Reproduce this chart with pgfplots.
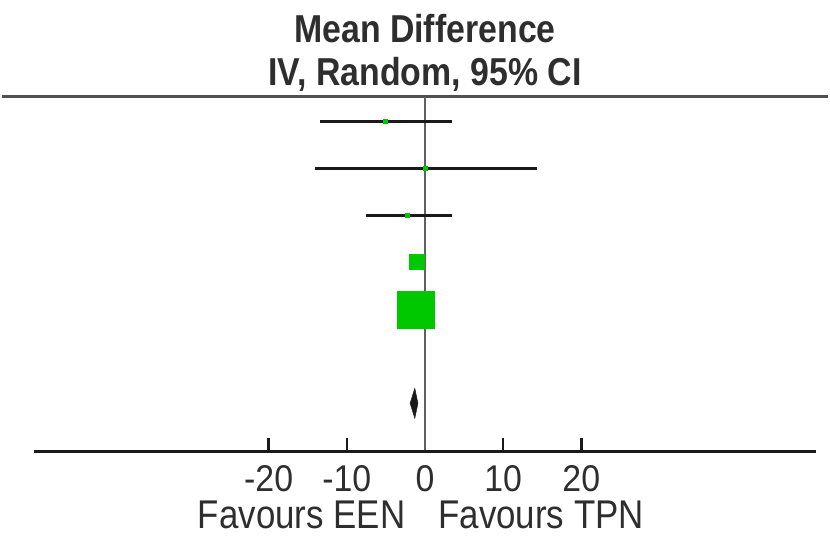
\documentclass[border=0pt]{standalone}
\usepackage{graphicx}
\usepackage{pgfplots}
\pgfplotsset{compat=1.18}
\usepackage{fontspec}
\setmainfont{Liberation Sans}
\definecolor{txt}{HTML}{2E2E2E}
\definecolor{sqg}{HTML}{00C800}
\definecolor{ln}{HTML}{1A1A1A}
\definecolor{rule}{HTML}{505050}
\definecolor{zero}{HTML}{606060}
\begin{document}
\begin{tikzpicture}
\begin{axis}[
 width=830pt, height=539pt, scale only axis,
 xmin=-54.14, xmax=51.59, ymin=0, ymax=539,
 hide axis, clip=false,
]
\draw[draw=none] (rel axis cs:0,0) rectangle (rel axis cs:1,1);
% top rule
\addplot[draw=rule, line width=3.5pt] coordinates {(-54.14,442) (51.59,442)};
% zero line
\addplot[draw=zero, line width=2.5pt] coordinates {(0,442) (0,86)};
% x axis
\addplot[draw=ln, line width=3pt] coordinates {(-50,86) (50,86)};
\addplot[draw=ln, line width=2.5pt] coordinates {(-20,86) (-20,99)};
\addplot[draw=ln, line width=2.5pt] coordinates {(-10,86) (-10,99)};
\addplot[draw=ln, line width=2.5pt] coordinates {(10,86) (10,99)};
\addplot[draw=ln, line width=2.5pt] coordinates {(20,86) (20,99)};
% confidence intervals
\addplot[draw=ln, line width=3pt] coordinates {(-13.4,417) (3.4,417)};
\addplot[draw=ln, line width=3pt] coordinates {(-14.1,370) (14.3,370)};
\addplot[draw=ln, line width=3pt] coordinates {(-7.6,323) (3.4,323)};
\addplot[draw=ln, line width=2pt] coordinates {(-2.0,276) (-0.2,276)};
\addplot[draw=ln, line width=2pt] coordinates {(-3.2,228) (0.8,228)};
% point estimates
\addplot[only marks, mark=square*, mark size=2pt, color=sqg] coordinates {(-5.1,417)};
\addplot[only marks, mark=square*, mark size=2pt, color=sqg] coordinates {(0,370)};
\addplot[only marks, mark=square*, mark size=2pt, color=sqg] coordinates {(-2.3,323)};
\addplot[only marks, mark=square*, mark size=7.5pt, color=sqg] coordinates {(-1.1,276)};
\addplot[only marks, mark=square*, mark size=18.5pt, color=sqg] coordinates {(-1.2,228)};
% pooled diamond
\addplot[fill=ln, draw=ln, line width=0.5pt] coordinates {(-1.9,134) (-1.3,149) (-0.9,134) (-1.3,119) (-1.9,134)} -- cycle;
% texts
\node[txt, font=\fontsize{34}{40}\selectfont\bfseries] at (axis cs:0,510) {\scalebox{1}[1.15]{Mean Difference}};
\node[txt, font=\fontsize{34}{40}\selectfont\bfseries] at (axis cs:0,464) {\scalebox{1}[1.15]{IV, Random, 95\% CI}};
\foreach \v in {-20,-10,0,10,20} {
  \edef\temp{\noexpand\node[txt, inner sep=0pt, anchor=base, font=\noexpand\fontsize{34}{38}\noexpand\selectfont] at (axis cs:\v,45) {\noexpand\scalebox{1}[1.1]{\v}};}
  \temp
}
\node[txt, inner sep=0pt, anchor=base east, font=\fontsize{35}{40}\selectfont] at (axis cs:-2.5,8) {\scalebox{1}[1.15]{Favours EEN}};
\node[txt, inner sep=0pt, anchor=base west, font=\fontsize{35}{40}\selectfont] at (axis cs:1.7,8) {\scalebox{1}[1.15]{Favours TPN}};
\end{axis}
\end{tikzpicture}
\end{document}
